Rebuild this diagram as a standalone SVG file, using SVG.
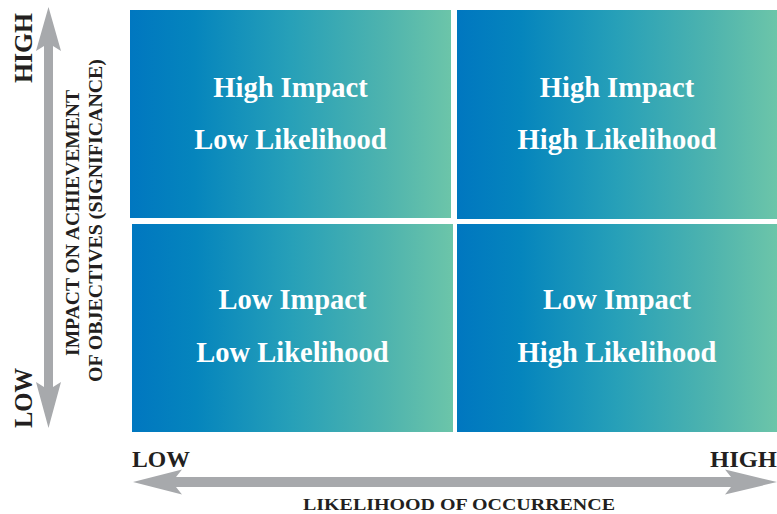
<svg xmlns="http://www.w3.org/2000/svg" width="777" height="514" viewBox="0 0 777 514">
<defs>
<linearGradient id="grad" x1="0" y1="0" x2="1" y2="0">
<stop offset="0" stop-color="#0077c0"/>
<stop offset="0.2" stop-color="#0585bd"/>
<stop offset="0.5" stop-color="#27a0b8"/>
<stop offset="0.8" stop-color="#4fb4ae"/>
<stop offset="1" stop-color="#6cc5a9"/>
</linearGradient>
<style>
.q{fill:url(#grad);}
.qt{font-family:"Liberation Serif","Times New Roman",serif;font-weight:bold;font-size:28.5px;fill:#ffffff;text-anchor:middle;}
.ax{font-family:"Liberation Serif","Times New Roman",serif;font-weight:bold;fill:#231f20;}
.arr{fill:#a7a9ac;}
</style>
</defs>
<rect width="777" height="514" fill="#ffffff"/>
<g id="q-high-low">
<rect class="q" x="130" y="10" width="321" height="208"/>
<text class="qt" x="290.5" y="97">High Impact</text>
<text class="qt" x="290.5" y="149">Low Likelihood</text>
</g>
<g id="q-high-high">
<rect class="q" x="457" y="10" width="320" height="209"/>
<text class="qt" x="617" y="97">High Impact</text>
<text class="qt" x="617" y="149">High Likelihood</text>
</g>
<g id="q-low-low">
<rect class="q" x="132" y="224" width="321" height="208"/>
<text class="qt" x="292.5" y="309">Low Impact</text>
<text class="qt" x="292.5" y="362">Low Likelihood</text>
</g>
<g id="q-low-high">
<rect class="q" x="457" y="224" width="320" height="208"/>
<text class="qt" x="617" y="309">Low Impact</text>
<text class="qt" x="617" y="362">High Likelihood</text>
</g>
<g id="connectors">
<path class="arr" d="M48.5,7 L61,51 L53,46 L53,387 L61,382 L48.5,428 L36,382 L44,387 L44,46 L36,51 Z"/>
<path class="arr" d="M133,482 L182,469.5 L176,477 L731,477 L725,469.5 L777,482 L725,494.5 L731,487 L176,487 L182,494.5 Z"/>
</g>
<g id="axis-labels">
<text class="ax" font-size="25" transform="translate(32,83) rotate(-90)" textLength="70" lengthAdjust="spacingAndGlyphs">HIGH</text>
<text class="ax" font-size="25" transform="translate(32,428) rotate(-90)" textLength="60" lengthAdjust="spacingAndGlyphs">LOW</text>
<text class="ax" font-size="19" text-anchor="middle" transform="translate(79,223) rotate(-90)" textLength="266" lengthAdjust="spacingAndGlyphs">IMPACT ON ACHIEVEMENT</text>
<text class="ax" font-size="19" text-anchor="middle" transform="translate(102,220.5) rotate(-90)" textLength="323" lengthAdjust="spacingAndGlyphs">OF OBJECTIVES (SIGNIFICANCE)</text>
<text class="ax" font-size="23.5" x="132" y="467" textLength="58" lengthAdjust="spacingAndGlyphs">LOW</text>
<text class="ax" font-size="23.5" x="710" y="467" textLength="67" lengthAdjust="spacingAndGlyphs">HIGH</text>
<text class="ax" font-size="16.5" x="303" y="510" textLength="312" lengthAdjust="spacingAndGlyphs">LIKELIHOOD OF OCCURRENCE</text>
</g>
</svg>
